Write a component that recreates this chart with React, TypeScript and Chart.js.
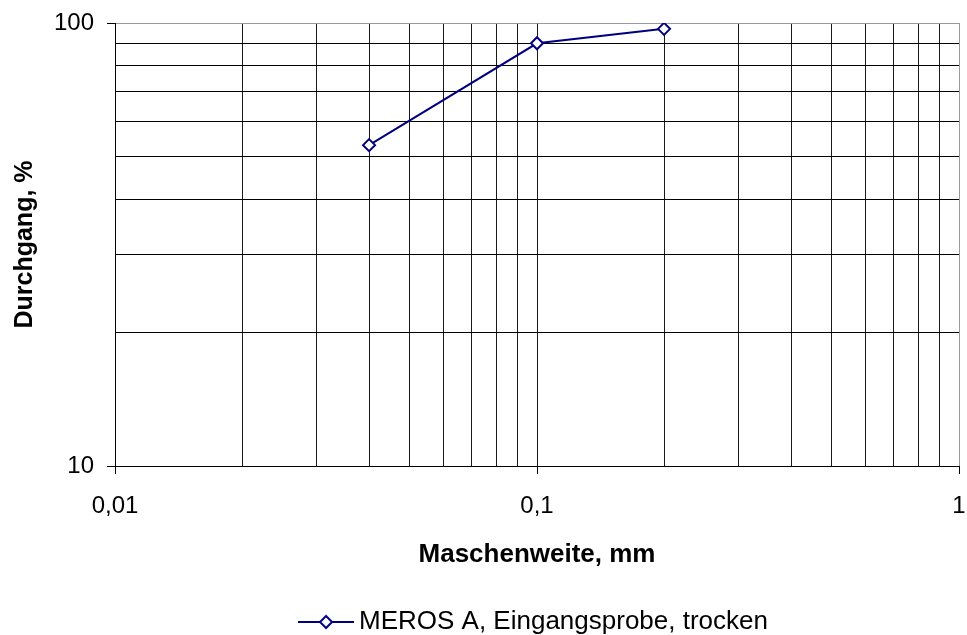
import React, { useEffect, useRef } from 'react';
import { Chart, registerables } from 'chart.js';

Chart.register(...registerables);

// Sieve analysis: passing percentage over mesh size (log-log)
const seriesLabel = 'MEROS A, Eingangsprobe, trocken';
const meshSizes = [0.04, 0.1, 0.2];
const passing = [53, 90, 97];

const xTitle = 'Maschenweite, mm';
const yTitle = 'Durchgang, %';

// Grid positions (every 1..9 step of each decade)
const xGridValues = [
  0.01, 0.02, 0.03, 0.04, 0.05, 0.06, 0.07, 0.08, 0.09,
  0.1, 0.2, 0.3, 0.4, 0.5, 0.6, 0.7, 0.8, 0.9, 1,
];
const yGridValues = [10, 20, 30, 40, 50, 60, 70, 80, 90, 100];

// Labelled ticks
const xTickValues = [0.01, 0.1, 1];
const xTickLabels = ['0,01', '0,1', '1'];
const yTickValues = [10, 100];
const yTickLabels = ['10', '100'];

const NAVY = '#000080';
const FONT = '"Liberation Sans", Arial, Helvetica, sans-serif';

const findIndex = (list: number[], v: number) =>
  list.findIndex((t) => Math.abs(t - v) / t < 1e-6);

export default function App() {
  const ref = useRef<HTMLCanvasElement>(null);

  useEffect(() => {
    const canvas = ref.current;
    if (!canvas) return;

    // legend symbol: line with hollow diamond
    const symbol = document.createElement('canvas');
    symbol.width = 56;
    symbol.height = 16;
    const s = symbol.getContext('2d')!;
    s.strokeStyle = NAVY;
    s.lineWidth = 2;
    s.beginPath();
    s.moveTo(0, 8);
    s.lineTo(56, 8);
    s.stroke();
    s.beginPath();
    s.moveTo(28, 2);
    s.lineTo(34, 8);
    s.lineTo(28, 14);
    s.lineTo(22, 8);
    s.closePath();
    s.fillStyle = '#ffffff';
    s.fill();
    s.stroke();

    Chart.defaults.font.family = FONT;
    Chart.defaults.color = '#000';

    const chart = new Chart(canvas, {
      type: 'line',
      data: {
        datasets: [
          {
            label: seriesLabel,
            data: meshSizes.map((x, i) => ({ x, y: passing[i] })),
            borderColor: NAVY,
            borderWidth: 2,
            tension: 0,
            fill: false,
            pointStyle: 'rectRot',
            pointRadius: 6,
            pointBorderWidth: 2,
            pointBorderColor: NAVY,
            pointBackgroundColor: '#ffffff',
          },
        ],
      },
      options: {
        animation: false,
        responsive: false,
        devicePixelRatio: 1,
        layout: { padding: { left: 0, top: 23, right: 8, bottom: 0 } },
        plugins: {
          tooltip: { enabled: false },
          legend: {
            position: 'bottom',
            fullSize: false,
            maxHeight: 32,
            labels: {
              color: '#000',
              font: { size: 26, family: FONT },
              padding: 6,
              usePointStyle: true,
              pointStyleWidth: 40,
              boxHeight: 16,
              generateLabels: () => [
                {
                  text: seriesLabel,
                  pointStyle: symbol as any,
                  fillStyle: 'transparent',
                  strokeStyle: 'transparent',
                  lineWidth: 0,
                  hidden: false,
                  datasetIndex: 0,
                  fontColor: '#000',
                } as any,
              ],
            },
          },
        },
        scales: {
          x: {
            type: 'logarithmic',
            min: 0.01,
            max: 1,
            afterBuildTicks: (scale: any) => {
              scale.ticks = xGridValues.map((v) => ({ value: v }));
            },
            afterFit: (scale: any) => {
              scale.height = 137;
              scale.paddingLeft = 0;
              scale.paddingRight = 0;
            },
            ticks: {
              autoSkip: false,
              maxRotation: 0,
              minRotation: 0,
              padding: 18,
              color: '#000',
              font: { size: 24, family: FONT },
              callback: (value: any) => {
                const i = findIndex(xTickValues, Number(value));
                return i >= 0 ? xTickLabels[i] : '';
              },
            },
            grid: {
              lineWidth: 1,
              tickLength: 8,
              color: (ctx: any) =>
                ctx.tick && Math.abs(ctx.tick.value - 1) < 1e-9 ? '#9a9a9a' : '#1a1a1a',
              tickColor: (ctx: any) =>
                ctx.tick && findIndex(xTickValues, ctx.tick.value) >= 0 ? '#000' : 'rgba(0,0,0,0)',
            },
            border: { display: true, color: '#000', width: 1 },
            title: {
              display: true,
              text: xTitle,
              color: '#000',
              font: { size: 26, weight: 'bold', family: FONT },
              padding: { top: 0, bottom: 33 },
            },
          },
          y: {
            type: 'logarithmic',
            min: 10,
            max: 100,
            afterBuildTicks: (scale: any) => {
              scale.ticks = yGridValues.map((v) => ({ value: v }));
            },
            afterFit: (scale: any) => {
              scale.width = 115;
              scale.paddingTop = 0;
              scale.paddingBottom = 0;
            },
            ticks: {
              autoSkip: false,
              padding: 13,
              color: '#000',
              font: { size: 24, family: FONT },
              callback: (value: any) => {
                const i = findIndex(yTickValues, Number(value));
                return i >= 0 ? yTickLabels[i] : '';
              },
            },
            grid: {
              lineWidth: 1,
              tickLength: 8,
              color: (ctx: any) =>
                ctx.tick && Math.abs(ctx.tick.value - 100) < 1e-9 ? '#9a9a9a' : '#000',
              tickColor: (ctx: any) =>
                ctx.tick && findIndex(yTickValues, ctx.tick.value) >= 0 ? '#000' : 'rgba(0,0,0,0)',
            },
            border: { display: true, color: '#000', width: 1 },
            title: {
              display: true,
              text: yTitle,
              color: '#000',
              font: { size: 25, weight: 'bold', family: FONT },
              padding: { top: 10, bottom: 0 },
            },
          },
        },
      },
    });

    return () => chart.destroy();
  }, []);

  return (
    <canvas
      ref={ref}
      width={967}
      height={635}
      style={{ position: 'absolute', left: 0, top: 0, background: '#fff' }}
    />
  );
}
